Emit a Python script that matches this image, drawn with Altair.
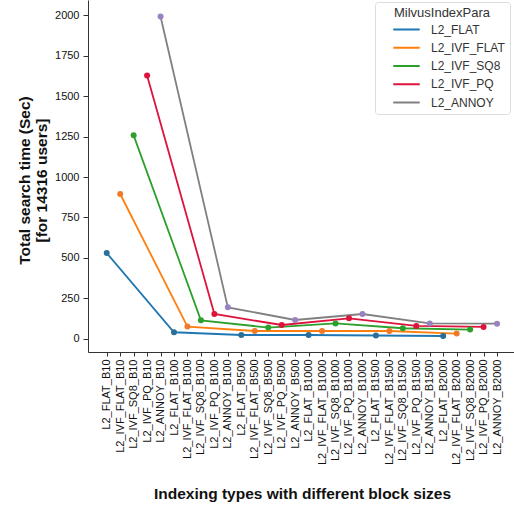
import altair as alt
import pandas as pd

types = ["L2_FLAT", "L2_IVF_FLAT", "L2_IVF_SQ8", "L2_IVF_PQ", "L2_ANNOY"]
blocks = ["B10", "B100", "B500", "B1000", "B1500", "B2000"]
categories = [f"{t}_{b}" for b in blocks for t in types]

flat = [530, 40, 23, 23, 20, 17]
ivf_flat = [895, 75, 48, 48, 48, 32]
ivf_sq8 = [1258, 114, 69, 95, 65, 57]
ivf_pq = [1628, 153, 85, 126, 79, 73]
annoy = [1993, 194, 116, 153, 95, 93]

line_colors = ["#1f77b4", "#ff7f0e", "#2ca02c", "#dc143c", "#808080"]
point_colors = ["#2a6f9a", "#f07a2a", "#2ca02c", "#dc143c", "#9a82c2"]

series_vals = dict(zip(types, [flat, ivf_flat, ivf_sq8, ivf_pq, annoy]))
rows = []
for t in types:
    for j, b in enumerate(blocks):
        cat = f"{t}_{b}"
        rows.append({"cat": cat, "pos": categories.index(cat),
                     "MilvusIndexPara": t, "value": series_vals[t][j]})
df = pd.DataFrame(rows)

label_expr = "[" + ",".join(f"'{c}'" for c in categories) + "][datum.value]"

x_enc = alt.X("pos:Q",
              scale=alt.Scale(domain=[-1.39, 30.26], nice=False, zero=False),
              axis=alt.Axis(title="Indexing types with different block sizes",
                            values=list(range(len(categories))), labelExpr=label_expr,
                            grid=False,
                            labelAngle=-90, labelFontSize=11, labelColor="#111",
                            labelFont="Liberation Sans", labelPadding=3,
                            labelAlign="right", labelBaseline="middle",
                            labelOverlap=False, labelFlush=False,
                            tickSize=4, tickColor="#333", domainColor="#333",
                            titleFont="Liberation Sans", titleFontSize=15.5,
                            titleFontWeight="bold", titleColor="#111",
                            titleBaseline="middle", titleY=141, titleX=214))
y_enc = alt.Y("value:Q",
              scale=alt.Scale(domain=[-82, 2095], nice=False, zero=False),
              axis=alt.Axis(title=["Total search time (Sec)", "[for 14316 users]"],
                            values=list(range(0, 2001, 250)), format="d", grid=False,
                            labelFontSize=11, labelColor="#111",
                            labelFont="Liberation Sans", labelPadding=4,
                            tickSize=5, tickColor="#333", domainColor="#333",
                            titleFont="Liberation Sans", titleFontSize=15.5,
                            titleFontWeight="bold", titleColor="#111",
                            titleAngle=270, titleAlign="center",
                            titleBaseline="middle", titleX=-64, titleY=180,
                            titleLineHeight=17.5))

lines = alt.Chart(df).mark_line(strokeWidth=1.8).encode(
    x=x_enc, y=y_enc,
    color=alt.Color("MilvusIndexPara:N", sort=types,
                    scale=alt.Scale(domain=types, range=line_colors),
                    legend=alt.Legend(orient="none", legendX=287, legendY=2,
                                      title="MilvusIndexPara", titleFontWeight="normal",
                                      titleFont="Liberation Sans", titleFontSize=13,
                                      titleColor="#333", titleAnchor="middle",
                                      titlePadding=3,
                                      labelFont="Liberation Sans", labelFontSize=12,
                                      labelColor="#333", symbolType="stroke",
                                      symbolSize=700, symbolStrokeWidth=2,
                                      symbolOffset=12, clipHeight=13,
                                      rowPadding=5.25, padding=5, cornerRadius=3,
                                      strokeColor="#ddd", fillColor="white",
                                      labelOffset=10)),
    detail="MilvusIndexPara:N",
    order="pos:Q",
)

points = alt.Chart(df).mark_circle(size=36, opacity=1).encode(
    x=x_enc, y=y_enc,
    color=alt.Color("MilvusIndexPara:N", sort=types,
                    scale=alt.Scale(domain=types, range=point_colors),
                    legend=None),
)

chart = alt.layer(lines, points).resolve_scale(color="independent").properties(
    width=426, height=352,
    padding={"left": 88, "top": 0, "right": 0, "bottom": 153},
    autosize=alt.AutoSizeParams(type="none"),
    background="white",
).configure_view(stroke=None)

chart.save("out.html", embed_options={"renderer": "svg", "actions": False})
